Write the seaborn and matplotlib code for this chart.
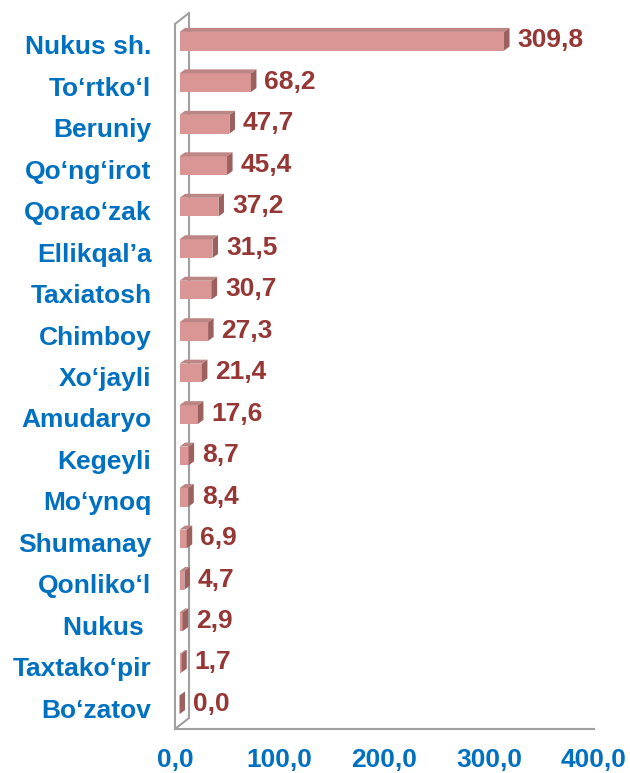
import numpy as np
import pandas as pd
import matplotlib
matplotlib.use("Agg")
import matplotlib.pyplot as plt
import seaborn as sns
from matplotlib.patches import Polygon
from matplotlib.lines import Line2D

# ------------------------------------------------------------
# Dados
# ------------------------------------------------------------
districts = ["Nukus sh.", "To‘rtko‘l", "Beruniy", "Qo‘ng‘irot", "Qorao‘zak",
             "Ellikqal’a", "Taxiatosh", "Chimboy", "Xo‘jayli", "Amudaryo",
             "Kegeyli", "Mo‘ynoq", "Shumanay", "Qonliko‘l", "Nukus ",
             "Taxtako‘pir", "Bo‘zatov"]
values = [309.8, 68.2, 47.7, 45.4, 37.2, 31.5, 30.7, 27.3, 21.4, 17.6,
          8.7, 8.4, 6.9, 4.7, 2.9, 1.7, 0.0]
xticks = [0, 100, 200, 300, 400]

BLUE = "#0070C0"
RED_TXT = "#953735"
FRONT = "#D99694"
TOP = "#BC8684"
SIDE = "#9C605E"
GRID = "#A0A0A0"
FS = 19

sns.set_style("white")
plt.rcParams["font.family"] = ["Liberation Sans", "DejaVu Sans"]
plt.rcParams["font.weight"] = "bold"

df = pd.DataFrame({"district": districts, "value": values})

W, H = 630, 773
fig = plt.figure(figsize=(W / 100, H / 100), dpi=100)
ax = fig.add_axes([175 / W, 44 / H, 419 / W, 705 / H])

sns.barplot(data=df, y="district", x="value", orient="h", color=FRONT,
            width=0.45, saturation=1, ax=ax, edgecolor="none")

ax.set_xlim(0, 400)
ax.set_ylim(len(districts) - 0.5, -0.5)

# pixels -> unidades de dados
px_x = 419 / 400.0
px_y = 705 / len(districts)

shift_x = 4.5 / px_x      # deslocamento da face frontal
shift_y = 3.5 / px_y
dep_x = 5.5 / px_x        # profundidade das barras
dep_y = 4.0 / px_y

# parede de fundo (estilo 3D)
wall_dx = 14 / px_x
wall_dy = 11 / px_y
y_top, y_bot = -0.5, len(districts) - 0.5
ax.add_line(Line2D([wall_dx, wall_dx], [y_top - wall_dy, y_bot - wall_dy],
                   color=GRID, lw=1.5, clip_on=False, zorder=1))
ax.add_line(Line2D([0, wall_dx], [y_top, y_top - wall_dy],
                   color=GRID, lw=1.5, clip_on=False, zorder=1))
ax.add_line(Line2D([0, wall_dx], [y_bot, y_bot - wall_dy],
                   color=GRID, lw=1.5, clip_on=False, zorder=1))

# barras 3D
for patch, v in zip(ax.patches, values):
    x0 = patch.get_x() + shift_x
    y0 = patch.get_y() - shift_y
    h = patch.get_height()
    x1 = x0 + patch.get_width()
    patch.set_x(x0)
    patch.set_y(y0)
    patch.set_zorder(3)
    top = Polygon([[x0, y0], [x1, y0], [x1 + dep_x, y0 - dep_y], [x0 + dep_x, y0 - dep_y]],
                  closed=True, facecolor=TOP, edgecolor="none", zorder=3, clip_on=False)
    side = Polygon([[x1, y0], [x1 + dep_x, y0 - dep_y], [x1 + dep_x, y0 + h - dep_y], [x1, y0 + h]],
                   closed=True, facecolor=SIDE, edgecolor="none", zorder=3, clip_on=False)
    ax.add_patch(top)
    ax.add_patch(side)
    ax.text(x1 + dep_x + 8 / px_x, y0 + h / 2 - 0.02, f"{v:.1f}".replace(".", ","),
            color=RED_TXT, fontsize=FS, fontweight="bold", va="center", ha="left",
            clip_on=False, zorder=4)

# eixos
sns.despine(ax=ax, top=True, right=True)
for s in ["left", "bottom"]:
    ax.spines[s].set_color(GRID)
    ax.spines[s].set_linewidth(1.5)
    ax.spines[s].set_zorder(2)

ax.set_xticks(xticks)
ax.set_xticklabels([f"{t:.1f}".replace(".", ",") for t in xticks],
                   color=BLUE, fontsize=FS, fontweight="bold")
ax.tick_params(axis="x", length=5, width=1.5, color=GRID, direction="out", pad=9)

ax.set_yticks(range(len(districts)))
ax.set_yticklabels(districts, color=BLUE, fontsize=FS, fontweight="bold")
ax.set_yticks(np.arange(-0.5, len(districts), 1.0), minor=True)
ax.tick_params(axis="y", which="major", length=0, pad=17)
ax.tick_params(axis="y", which="minor", length=7, width=1.5, color=GRID, direction="out")

ax.set_xlabel("")
ax.set_ylabel("")
ax.grid(False)

fig.savefig("out.png", dpi=100)
